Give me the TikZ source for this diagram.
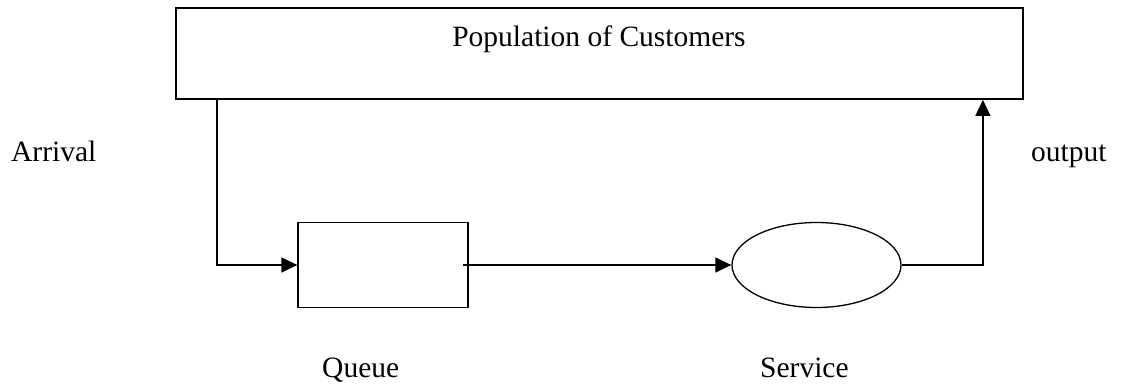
\documentclass[tikz,border=0pt]{standalone}
\usepackage{fontspec}
\setmainfont{Liberation Serif}
\usetikzlibrary{shapes.geometric,arrows.meta,calc}

\begin{document}
\begin{tikzpicture}[x=1pt,y=-1pt,
    label text/.style={font=\fontsize{29.5}{35}\selectfont,inner sep=0pt},
    flow/.style={line width=1.3pt},
    flow arrow/.style={flow,-{Triangle[length=16pt,width=15pt]}},
    block/.style={draw,line width=1.3pt,inner sep=0pt}]
    \useasboundingbox (0,0) rectangle (1122,385);

    % Population box
    \node[block,line width=1.8pt,minimum width=847pt,minimum height=91pt] (pop) at (599.5,53.5) {};
    \node[label text,anchor=base] (poptext) at (599,47) {Population of Customers};

    % Queue and server
    \node[block,minimum width=170pt,minimum height=85pt] (queue) at (383,265) {};
    \node[block,ellipse,minimum width=169pt,minimum height=85pt] (service) at (816.5,265) {};

    % Side labels
    \node[label text,anchor=base west] (arrival) at (11,161) {Arrival};
    \node[label text,anchor=base west] (output) at (1031,161) {output};
    \node[label text,anchor=base west] (queuetext) at (322,377) {Queue};
    \node[label text,anchor=base west] (servicetext) at (760,377) {Service};

    % Flow lines
    \coordinate (arrtop) at ([xshift=42pt]pop.south west);
    \coordinate (outtop) at ([xshift=-41pt]pop.south east);
    \draw[flow arrow] (arrtop) |- (queue.west);
    \draw[flow arrow] ([xshift=-6pt]queue.east) -- (service.west);
    \draw[flow arrow] (service.east) -| (outtop);
\end{tikzpicture}
\end{document}
